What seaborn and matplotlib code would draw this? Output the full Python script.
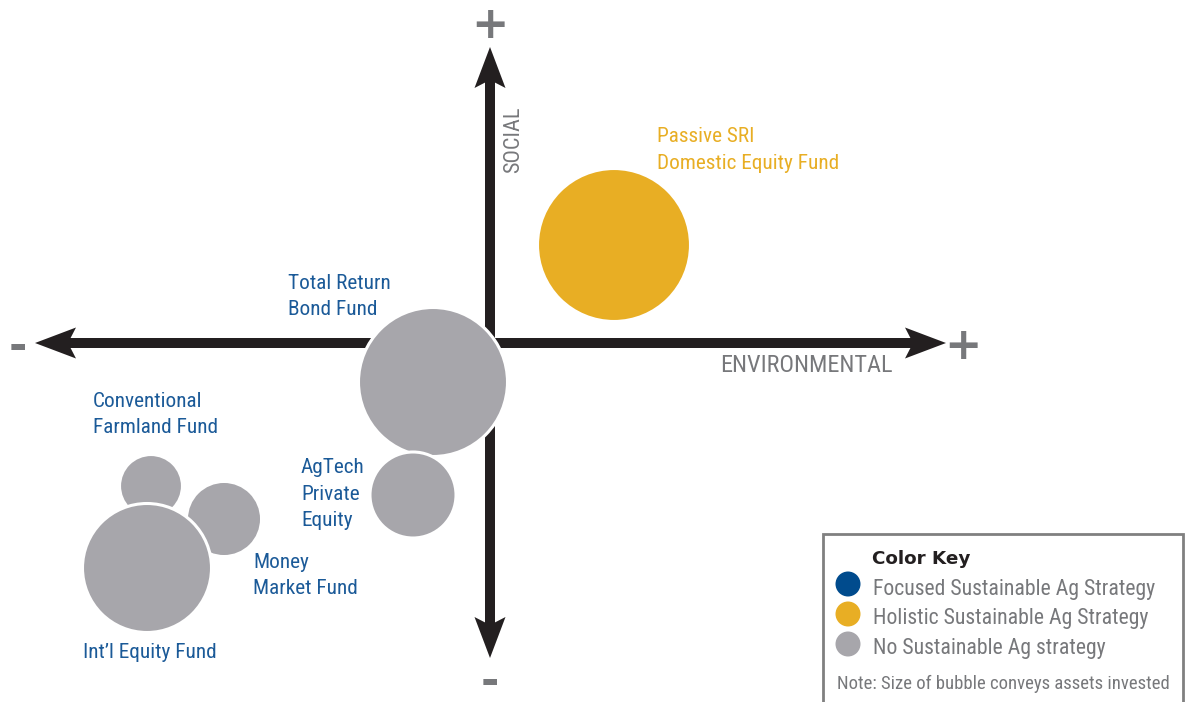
import matplotlib
matplotlib.use("Agg")
import matplotlib.pyplot as plt
from matplotlib import font_manager
from matplotlib.font_manager import FontProperties
from matplotlib.patches import Polygon, Rectangle
import numpy as np
import pandas as pd
import seaborn as sns

# ---------------- data ----------------
funds = ["Passive SRI\nDomestic Equity Fund", "Total Return\nBond Fund",
         "AgTech\nPrivate\nEquity", "Conventional\nFarmland Fund",
         "Money\nMarket Fund", "Int\u2019l Equity Fund"]
environmental = [124, -57, -77, -339, -266, -343]      # score (x)
social = [98, -39, -152, -143, -176, -225]             # score (y)
assets = [58.5, 55.5, 18.5, 9.9, 14.1, 41.6]           # assets invested
strategy = ["Holistic", "None", "None", "None", "None", "None"]
key_labels = ["Focused Sustainable Ag Strategy",
              "Holistic Sustainable Ag Strategy",
              "No Sustainable Ag strategy"]
key_levels = ["Focused", "Holistic", "None"]

# ---------------- style ----------------
BLUE = "#004b8d"
LBLUE = "#1b5a98"
GOLD = "#e8ae24"
GREY = "#a7a6ab"
TGREY = "#77787b"
BLACK = "#231f20"
palette = {"Focused": BLUE, "Holistic": GOLD, "None": GREY}

sns.set_theme(style="white")
plt.rcParams["font.family"] = ["DejaVu Sans"]

# look for a condensed sans face
fl = font_manager.fontManager.ttflist
def find(pref_names, bold=False):
    for nm in pref_names:
        for f in fl:
            cond = ("Narrow" in f.name or "Condensed" in f.name or "Narrow" in f.fname
                    or "Condensed" in f.fname or str(f.stretch) in ("condensed", "semi-condensed", "75", "87"))
            isbold = (f.weight in ("bold", 700) or "Bold" in f.fname)
            if nm.lower() in f.name.lower() and cond and f.style == "normal" and isbold == bold \
                    and "Oblique" not in f.fname and "Italic" not in f.fname:
                return f.fname
    return None

prefs = ["Liberation Sans Narrow", "Roboto Condensed", "Open Sans Condensed",
         "DejaVu Sans Condensed", "DejaVu Sans", "Noto Sans", "Roboto"]
reg = find(prefs, False)
if reg:
    FP = FontProperties(fname=reg)
    SCALE = 1.0
else:
    FP = FontProperties(family=["Liberation Sans", "DejaVu Sans"])
    SCALE = 0.86

W, H = 1191, 702
OX, OY = 490, 343  # origin pixel
fig = plt.figure(figsize=(W / 100, H / 100), dpi=100)
ax = fig.add_axes([0, 0, 1, 1])
ax.set_xlim(-OX, W - OX)
ax.set_ylim(OY - H, OY)
ax.axis("off")


def P(px, py):
    return px - OX, OY - py


def T(xy, s, size, color, **kw):
    fpx = FP.copy()
    fpx.set_size(size * SCALE)
    return ax.text(xy[0], xy[1], s, fontproperties=fpx, color=color, **kw)


# ---------------- axes arrows ----------------
shaft = 5  # half thickness
def head(tip, direction, L=41, w=15.5, notch=33):
    tx, ty = tip
    dx, dy = direction
    nx, ny = -dy, dx
    pts = [(tx, ty),
           (tx - dx * L + nx * w, ty - dy * L + ny * w),
           (tx - dx * notch, ty - dy * notch),
           (tx - dx * L - nx * w, ty - dy * L - ny * w)]
    return Polygon(pts, closed=True, facecolor=BLACK, edgecolor="none", zorder=1)

left_tip, right_tip = P(35, OY), P(946, OY)
top_tip, bot_tip = P(OX, 47), P(OX, 658)
ax.add_patch(Rectangle((left_tip[0] + 30, -shaft), right_tip[0] - left_tip[0] - 60, 2 * shaft,
                       facecolor=BLACK, edgecolor="none", zorder=1))
ax.add_patch(Rectangle((-shaft, bot_tip[1] + 30), 2 * shaft, top_tip[1] - bot_tip[1] - 60,
                       facecolor=BLACK, edgecolor="none", zorder=1))
ax.add_patch(head(right_tip, (1, 0)))
ax.add_patch(head(left_tip, (-1, 0)))
ax.add_patch(head(top_tip, (0, 1)))
ax.add_patch(head(bot_tip, (0, -1)))

# plus / minus signs
for (px, py), s in [((490, 21), "+"), ((963, 342), "+"), ((18, 343), "-"), ((490, 678), "-")]:
    x, y = P(px, py)
    ax.text(x, y, s, ha="center", va="center_baseline", fontsize=32,
            fontweight="heavy", color=TGREY, family="DejaVu Sans")

T(P(720, 372), "ENVIRONMENTAL", 17.5, TGREY, ha="left", va="baseline")
T(P(514, 140), "SOCIAL", 16, TGREY, ha="center", va="center",
  rotation=90, rotation_mode="anchor")

# ---------------- bubbles ----------------
df = pd.DataFrame({"fund": funds, "env": environmental, "social": social,
                   "assets": assets, "strategy": strategy})
amax = max(assets)
sns.scatterplot(data=df, x="env", y="social", hue="strategy", palette=palette,
                size="assets", sizes=(0, 207.36 * amax), size_norm=(0, amax),
                edgecolor="white", linewidth=2.2, alpha=1, legend=False, ax=ax, zorder=3)
ax.set_xlabel("")
ax.set_ylabel("")

# ---------------- labels ----------------
label_layout = {  # left x, first baseline y (pixels), line spacing
    0: (657, 142, 27),
    1: (288, 289, 26),
    2: (301, 473, 26.5),
    3: (93, 407, 26),
    4: (253, 568, 26),
    5: (83, 658, 26),
}
for i, name in enumerate(funds):
    px, py, dy = label_layout[i]
    col = GOLD if strategy[i] == "Holistic" else LBLUE
    for j, line in enumerate(name.split("\n")):
        T(P(px, py + j * dy), line, 15.35, col, ha="left", va="baseline", zorder=4)

# ---------------- color key ----------------
ax.add_patch(Rectangle(P(823, 720), 360, 720 - 534, facecolor="white", edgecolor="#808080",
                       linewidth=2, zorder=2))
ax.text(*P(872, 564), "Color Key", fontsize=13.2, fontweight="bold", color=BLACK,
        family="DejaVu Sans", ha="left", va="baseline", zorder=4)
key_y = [584, 614, 644]
key_base = [595, 624, 654]
kx = [P(848, y)[0] for y in key_y]
ky = [P(848, y)[1] for y in key_y]
ax.scatter(kx, ky, s=(25 * 0.72) ** 2, c=[palette[k] for k in key_levels],
           edgecolors="none", zorder=4)
for lab, b in zip(key_labels, key_base):
    T(P(873, b), lab, 15.7, TGREY, ha="left", va="baseline", zorder=4)
T(P(837, 689), "Note: Size of bubble conveys assets invested", 13.5, TGREY,
  ha="left", va="baseline", zorder=4)

fig.savefig("out.png", dpi=100)
